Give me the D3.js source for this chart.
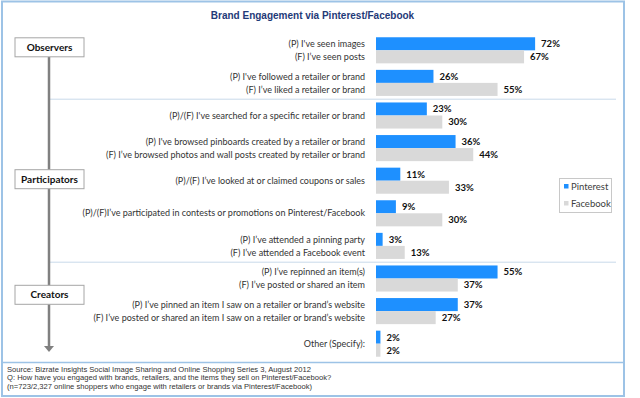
<!DOCTYPE html>
<html><head><meta charset="utf-8">
<script src="https://cdn.jsdelivr.net/npm/d3@7"></script>
<style>body{margin:0;background:#fff}svg{display:block}</style>
</head><body>
<svg id="c" width="640" height="398"></svg>
<script>
const title = "Brand Engagement via Pinterest/Facebook";
const categories = ["seen","followed","searched","browsed","coupons","contests","attended","repinned","pinned","other"];
const pLabels = ["(P) I've seen images","(P) I've followed a retailer or brand","(P)/(F) I've searched for a specific retailer or brand","(P) I've browsed pinboards created by a retailer or brand","(P)/(F) I’ve looked at or claimed coupons or sales","(P)/(F)I’ve participated in contests or promotions on Pinterest/Facebook","(P) I’ve attended a pinning party","(P) I’ve repinned an item(s)","(P) I’ve pinned an item I saw on a retailer or brand’s website","Other (Specify):"];
const fLabels = ["(F) I’ve seen posts","(F) I’ve liked a retailer or brand",null,"(F) I’ve browsed photos and wall posts created by retailer or brand",null,null,"(F) I’ve attended a Facebook event","(F) I’ve posted or shared an item","(F) I’ve posted or shared an item I saw on a retailer or brand’s website",null];
const pinterest = [72,26,23,36,11,9,3,55,37,2];
const facebook  = [67,55,30,44,33,30,13,37,27,2];
const seriesNames = ["Pinterest","Facebook"];
const sections = ["Observers","Participators","Creators"];
const footer = ["Source: Bizrate Insights Social Image Sharing and Online Shopping Series 3, August 2012",
 "Q: How have you engaged with brands, retailers, and the items they sell on Pinterest/Facebook?",
 "(n=723/2,327 online shoppers who engage with retailers or brands via Pinterest/Facebook)"];

const colors = {Pinterest:"#1e90ff", Facebook:"#d9d9d9"};
const svg = d3.select("#c");
const labelFont = "Lato, 'Open Sans', sans-serif";
const labelSize = 9;

// frame
svg.append("rect").attr("x",2).attr("y",1.5).attr("width",622).attr("height",394.5)
  .attr("fill","#fff").attr("stroke","#9dc3e6").attr("stroke-width",2);
svg.append("line").attr("x1",2).attr("x2",624).attr("y1",362.5).attr("y2",362.5)
  .attr("stroke","#9dc3e6").attr("stroke-width",1.5);

svg.append("text").attr("x",312.5).attr("y",19).attr("text-anchor","middle")
  .attr("font-family","'Liberation Sans', Arial, sans-serif").attr("font-weight","bold")
  .attr("font-size",10).attr("fill","#1f3a78").text(title);

const x = d3.scaleLinear().domain([0,100]).range([376,597]);
const y = d3.scaleBand().domain(categories).range([34,360]).paddingInner(0.2).paddingOuter(0.1);
const sub = d3.scaleBand().domain(seriesNames).range([0,y.bandwidth()]);

// separators
[2,7].forEach(i=>{
  const yy = (y(categories[i-1]) + y.bandwidth() + y(categories[i]))/2;
  svg.append("line").attr("x1",50).attr("x2",616).attr("y1",yy).attr("y2",yy)
    .attr("stroke","#c9d9ea").attr("stroke-width",1);
});

const rows = categories.map((c,i)=>({c, p:pinterest[i], f:facebook[i], pl:pLabels[i], fl:fLabels[i]}));
const g = svg.append("g");
rows.forEach(r=>{
  const y0 = y(r.c);
  [["Pinterest",r.p],["Facebook",r.f]].forEach(([s,v])=>{
    g.append("rect").attr("x",x(0)).attr("y",y0+sub(s)).attr("width",x(v)-x(0))
      .attr("height",sub.bandwidth()).attr("fill",colors[s]);
    g.append("text").attr("x",x(v)+6).attr("y",y0+sub(s)+sub.bandwidth()/2)
      .attr("dy","0.35em").attr("font-family",labelFont).attr("font-weight","bold")
      .attr("font-size",9.5).attr("fill","#111").text(v+"%");
  });
  const lx = 365;
  const addLabel = (yy,t)=>g.append("text").attr("x",lx).attr("y",yy).attr("dy","0.35em")
      .attr("text-anchor","end").attr("font-family",labelFont).attr("font-size",labelSize).attr("fill","#333").text(t);
  if (r.fl) {
    addLabel(y0+sub("Pinterest")+sub.bandwidth()/2, r.pl);
    addLabel(y0+sub("Facebook")+sub.bandwidth()/2, r.fl);
  } else {
    addLabel(y0+y.bandwidth()/2, r.pl);
  }
});

// left flow line + arrow
svg.append("line").attr("x1",49).attr("x2",49).attr("y1",57).attr("y2",347)
  .attr("stroke","#808080").attr("stroke-width",2.5);
svg.append("path").attr("d","M44,346 L54,346 L49,352 Z").attr("fill","#808080");

// section boxes
const secCenters = [
  y(categories[0]) + y.bandwidth()/2 - 3,
  y(categories[4]) + y.bandwidth()/2 - 1.5,
  (y(categories[7]) + y.bandwidth() + y(categories[8]))/2
];
sections.forEach((s,i)=>{
  const cy = secCenters[i];
  svg.append("rect").attr("x",15).attr("y",cy-9.5).attr("width",69).attr("height",19)
    .attr("fill","#fff").attr("stroke","#a6a6a6").attr("stroke-width",1);
  svg.append("text").attr("x",49.5).attr("y",cy).attr("dy","0.35em").attr("text-anchor","middle")
    .attr("font-family",labelFont).attr("font-weight","bold").attr("font-size",10).attr("fill","#111").text(s);
});

// legend
svg.append("rect").attr("x",559.5).attr("y",178.5).attr("width",52).attr("height",34)
  .attr("fill","#fff").attr("stroke","#c8c8c8");
seriesNames.forEach((s,i)=>{
  const cy = 186.5 + i*17;
  svg.append("rect").attr("x",564).attr("y",cy-2.5).attr("width",4.5).attr("height",4.5).attr("fill",colors[s]);
  svg.append("text").attr("x",571).attr("y",cy).attr("dy","0.35em").attr("font-family",labelFont)
    .attr("font-size",9.5).attr("fill","#404040").text(s);
});

// footer
footer.forEach((t,i)=>{
  svg.append("text").attr("x",7).attr("y",369+i*8.8).attr("dy","0.35em")
    .attr("font-family","'Liberation Sans', Arial, sans-serif").attr("font-size",7.6).attr("fill","#333").text(t);
});
</script>
</body></html>
